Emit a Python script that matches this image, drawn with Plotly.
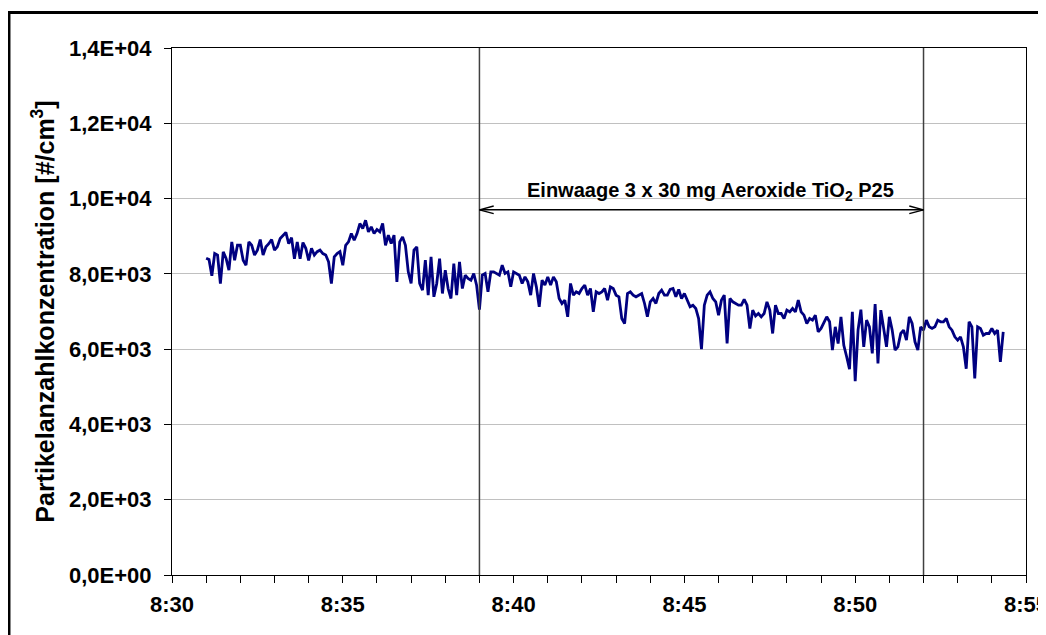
import plotly.graph_objects as go
from datetime import datetime, timedelta

# ---------------- data ----------------
START_TIME = "2000-01-01 08:31:00"
STEP_SECONDS = 5
# particle number concentration [#/cm3], one value every 5 s (one row per minute)
CONC = [
    8415, 8380, 7950, 8540, 8500, 7740, 8585, 8410, 8100, 8850, 8360, 8760,   # 8:31
    8760, 8360, 8230, 8850, 8760, 8500, 8630, 8910, 8500, 8720, 8800, 8910,   # 8:32
    8630, 8720, 8940, 9030, 9100, 8800, 8960, 8400, 8850, 8400, 8830, 8680,   # 8:33
    8360, 8680, 8500, 8590, 8630, 8540, 8500, 8320, 7740, 8450, 8540, 8590,   # 8:34
    8230, 8760, 8850, 9071, 8894, 9071, 9337, 9204, 9425, 9115, 9248, 9071,   # 8:35
    9178, 9115, 9337, 8760, 9027, 8806, 9027, 7788, 8850, 8983, 8760, 8053,   # 8:36
    7744, 8629, 8717, 7744, 7566, 8363, 7434, 8451, 7390, 7744, 8407, 7478,   # 8:37
    8098, 7610, 7345, 8275, 7434, 8319, 7610, 7965, 7876, 7832, 8009, 7700,   # 8:38
    7050, 7965, 8009, 7522, 8053, 8053, 8009, 7965, 8230, 8009, 8053, 7655,   # 8:39
    8053, 8009, 7965, 7744, 7921, 7788, 7434, 8009, 7655, 7124, 7832, 7700,   # 8:40
    7921, 7700, 7921, 7788, 7345, 7213, 7301, 6860, 7744, 7434, 7522, 7478,   # 8:41
    7611, 7700, 7434, 7611, 6990, 7522, 7478, 7522, 7611, 7301, 7655, 7611,   # 8:42
    7434, 7390, 6815, 6680, 7478, 7522, 7434, 7390, 7434, 7478, 7213, 6860,   # 8:43
    7257, 7345, 7213, 7478, 7567, 7434, 7434, 7585, 7611, 7390, 7585, 7345,   # 8:44
    7478, 7320, 7124, 7168, 7080, 6814, 6000, 7168, 7434, 7522, 7345, 7257,   # 8:45
    6903, 7301, 7434, 6150, 7345, 7257, 7213, 7168, 7168, 7320, 7168, 6549,   # 8:46
    7036, 6880, 6947, 6859, 6947, 7257, 7036, 6416, 7168, 6947, 6947, 6814,   # 8:47
    7036, 6991, 7080, 6991, 7301, 6991, 6903, 6682, 6814, 6770, 6903, 6460,   # 8:48
    6550, 6726, 6859, 6726, 5974, 6593, 6150, 6859, 6100, 5797, 5470, 6991,   # 8:49
    5150, 6505, 7050, 6062, 6770, 6593, 5885, 7195, 5620, 7036, 6549, 6062,   # 8:50
    6859, 6505, 5974, 6062, 6416, 6505, 6239, 6859, 6682, 6195, 5974, 6593,   # 8:51
    6505, 6770, 6593, 6549, 6593, 6770, 6726, 6726, 6814, 6593, 6505, 6327,   # 8:52
    6239, 6327, 6062, 5480, 6726, 6593, 5220, 6593, 6549, 6372, 6416, 6416,   # 8:53
    6549, 6416, 6505, 5664, 6460,                                             # 8:54
]

X_RANGE = ["2000-01-01 08:30:00", "2000-01-01 08:55:00"]
EVENT_START = "2000-01-01 08:39:00"
EVENT_END = "2000-01-01 08:52:00"
ARROW_Y = 9700
LABEL_TIME = "2000-01-01 08:45:45"
LABEL_Y = 10200
LABEL_TEXT = "Einwaage 3 x 30 mg Aeroxide TiO<sub>2</sub> P25"
Y_TICKVALS = [0, 2000, 4000, 6000, 8000, 10000, 12000, 14000]
Y_TICKTEXT = ["0,0E+00", "2,0E+03", "4,0E+03", "6,0E+03", "8,0E+03", "1,0E+04", "1,2E+04", "1,4E+04"]
Y_TITLE = "Partikelanzahlkonzentration [#/cm<sup>3</sup>]"

# ---------------- figure ----------------
FMT = "%Y-%m-%d %H:%M:%S"
t0 = datetime.strptime(START_TIME, FMT)
times = [t0 + timedelta(seconds=STEP_SECONDS * i) for i in range(len(CONC))]

FONT = "Liberation Sans, Arial, sans-serif"

fig = go.Figure()
fig.add_trace(go.Scatter(
    x=times, y=CONC, mode="lines",
    line=dict(color="#000080", width=2.8),
    showlegend=False, hoverinfo="skip",
))

ev0 = datetime.strptime(EVENT_START, FMT)
ev1 = datetime.strptime(EVENT_END, FMT)
head_dt = timedelta(seconds=25)
head_dy = 100

shapes = []
# event boundary lines
for ev in (ev0, ev1):
    shapes.append(dict(type="line", xref="x", yref="paper", x0=ev, x1=ev, y0=0, y1=1,
                       line=dict(color="#404040", width=1.5)))
# double-headed arrow
shapes.append(dict(type="line", xref="x", yref="y", x0=ev0, x1=ev1, y0=ARROW_Y, y1=ARROW_Y,
                   line=dict(color="black", width=1.5)))
for sgn in (1, -1):
    shapes.append(dict(type="line", xref="x", yref="y", x0=ev0, x1=ev0 + head_dt,
                       y0=ARROW_Y, y1=ARROW_Y + sgn * head_dy, line=dict(color="black", width=1.5)))
    shapes.append(dict(type="line", xref="x", yref="y", x0=ev1, x1=ev1 - head_dt,
                       y0=ARROW_Y, y1=ARROW_Y + sgn * head_dy, line=dict(color="black", width=1.5)))
# outer chart frame
shapes.append(dict(type="rect", xref="paper", yref="paper", x0=-0.1909, x1=1.2, y0=-0.3, y1=1.0674,
                   line=dict(color="black", width=3), fillcolor="rgba(0,0,0,0)", layer="above"))

fig.update_layout(
    width=1038, height=627,
    margin=dict(l=164, r=20, t=40, b=60, autoexpand=False),
    paper_bgcolor="white", plot_bgcolor="white",
    font=dict(family=FONT, color="black"),
    shapes=shapes,
    annotations=[dict(
        x=datetime.strptime(LABEL_TIME, FMT), y=LABEL_Y, xref="x", yref="y",
        text=LABEL_TEXT, showarrow=False,
        font=dict(family=FONT, size=20, color="black", weight="bold"),
    )],
)

fig.update_xaxes(
    type="date", range=X_RANGE, automargin=False,
    dtick=300000, tick0="2000-01-01 08:30:00", tickformat="%-H:%M",
    ticks="outside", ticklen=7, tickcolor="black", tickwidth=1,
    minor=dict(dtick=60000, tick0="2000-01-01 08:30:00", ticks="outside", ticklen=7,
               tickcolor="black", tickwidth=1, showgrid=False),
    showgrid=False, zeroline=False,
    showline=True, linecolor="black", linewidth=1, mirror=True,
    tickfont=dict(family=FONT, size=22, color="black", weight="bold"),
    ticklabelstandoff=3, ticklabeloverflow="allow",
)
fig.update_yaxes(
    range=[0, 14000], tickvals=Y_TICKVALS, ticktext=Y_TICKTEXT, automargin=False,
    ticks="outside", ticklen=7, tickcolor="black", tickwidth=1,
    showgrid=True, gridcolor="#c0c0c0", gridwidth=1, zeroline=False,
    showline=True, linecolor="black", linewidth=1, mirror=True,
    tickfont=dict(family=FONT, size=22, color="black", weight="bold"),
    ticklabelstandoff=8,
    title=dict(text=Y_TITLE, font=dict(family=FONT, size=25, color="black", weight="bold"),
               standoff=7),
)

fig.write_html("out.html")
